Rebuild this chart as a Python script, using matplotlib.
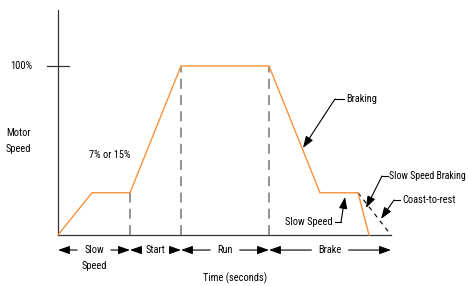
"""Motor speed profile: slow speed, start, run, brake with coast-to-rest."""
import matplotlib
matplotlib.use("Agg")
import matplotlib.pyplot as plt
from matplotlib import font_manager

# pick a narrow face if one is around, the original uses a condensed grotesk
installed = {f.name: f for f in font_manager.fontManager.ttflist}
narrow = [f.name for f in font_manager.fontManager.ttflist
          if ("Narrow" in f.name or "Condensed" in f.name)]
condensed_dejavu = any(f.name == "DejaVu Sans" and f.stretch == "condensed"
                       for f in font_manager.fontManager.ttflist)
FONT_SIZE = 7.5
if "Liberation Sans Narrow" in installed:
    family = ["Liberation Sans Narrow", "DejaVu Sans"]
elif "Roboto Condensed" in installed:
    family = ["Roboto Condensed", "DejaVu Sans"]
elif narrow:
    family = [narrow[0], "DejaVu Sans"]
elif condensed_dejavu:
    family = ["DejaVu Sans"]
    plt.rcParams["font.stretch"] = "condensed"
    FONT_SIZE = 7.0
else:
    family = ["Liberation Sans", "DejaVu Sans"]
    FONT_SIZE = 6.6

plt.rcParams.update({"font.family": family, "font.size": FONT_SIZE})

# speed profile (time in arbitrary units, speed in %)
time_pts = [0, 3.4, 7.2, 12.3, 21.1, 26.2, 30.0, 31.1]
speed_pts = [0, 25, 25, 100, 100, 25, 25, 0]
coast_time = [30.0, 33.3]
coast_speed = [25, 0]
phase_edges = [0, 7.2, 12.3, 21.1, 33.3]
phase_names = ["Slow", "Start", "Run", "Brake"]

ORANGE = "#f7923a"
GRAY = "#8a8a8a"
DARK = "#333333"

fig = plt.figure(figsize=(4.68, 2.86), dpi=100)
ax = fig.add_axes([0, 0, 1, 1])
ax.set_xlim(-5.8, 41.0)
ax.set_ylim(-30.18, 139.05)
ax.axis("off")

# axes drawn by hand
ax.plot([0, 0], [0, 133], color=DARK, lw=0.9)
ax.plot([0, phase_edges[-1]], [0, 0], color=DARK, lw=0.9)
ax.plot([-1.1, 1.1], [100, 100], color=DARK, lw=0.9)

# phase boundaries
for t, s in [(7.2, 25), (12.3, 100), (21.1, 100)]:
    ax.plot([t, t], [0, s], color=GRAY, lw=1.3, dashes=(5.5, 3.5))

ax.plot(coast_time, coast_speed, color="black", lw=0.8, dashes=(4, 4))
ax.plot(time_pts, speed_pts, color=ORANGE, lw=1.0, zorder=3)

ax.text(-2.6, 100, "100%", ha="right", va="center")
ax.text(-5.2, 60.4, "Motor", ha="left", va="center")
ax.text(-5.2, 50.9, "Speed", ha="left", va="center")
ax.text(5.2, 47.3, "7% or 15%", ha="center", va="center")

# phase dimension arrows
arr_y = -8.9
ap = dict(arrowstyle="-|>,head_length=0.7,head_width=0.25", color="black",
          lw=0.8, mutation_scale=10, shrinkA=3, shrinkB=0)
for i, name in enumerate(phase_names):
    lo, hi = phase_edges[i], phase_edges[i + 1]
    mid = (lo + hi) / 2
    ax.annotate(name, xy=(lo, arr_y), xytext=(mid, arr_y), ha="center",
                va="center", arrowprops=ap)
    ax.annotate(name, xy=(hi, arr_y), xytext=(mid, arr_y), ha="center",
                va="center", color="none", arrowprops=ap)
ax.text(3.6, -18.3, "Speed", ha="center", va="center")
ax.text(17.7, -25.4, "Time (seconds)", ha="center", va="center")

# callouts
cap = dict(arrowstyle="-|>,head_length=0.7,head_width=0.25", color="black",
           lw=0.8, mutation_scale=10, shrinkA=0, shrinkB=0)
ax.text(28.8, 80.5, "Braking", ha="left", va="center")
ax.plot([27.7, 28.6], [80.5, 80.5], color="black", lw=0.8)
ax.annotate("", xy=(24.5, 51.5), xytext=(27.7, 80.5), arrowprops=cap)

ax.text(27.5, 7.7, "Slow Speed", ha="right", va="center")
ax.plot([27.7, 28.3], [7.7, 7.7], color="black", lw=0.8)
ax.annotate("", xy=(28.7, 22.5), xytext=(28.3, 7.7), arrowprops=cap)

ax.text(33.1, 34.9, "Slow Speed Braking", ha="left", va="center",
        fontsize=FONT_SIZE * 0.95)
ax.plot([32.4, 32.95], [34.9, 34.9], color="black", lw=0.8)
ax.annotate("", xy=(30.8, 16), xytext=(32.4, 34.9), arrowprops=cap)

ax.text(34.4, 20.7, "Coast-to-rest", ha="left", va="center")
ax.plot([33.6, 34.2], [20.7, 20.7], color="black", lw=0.8)
ax.annotate("", xy=(32.3, 9.5), xytext=(33.6, 20.7), arrowprops=cap)

fig.savefig("out.png", dpi=100)
